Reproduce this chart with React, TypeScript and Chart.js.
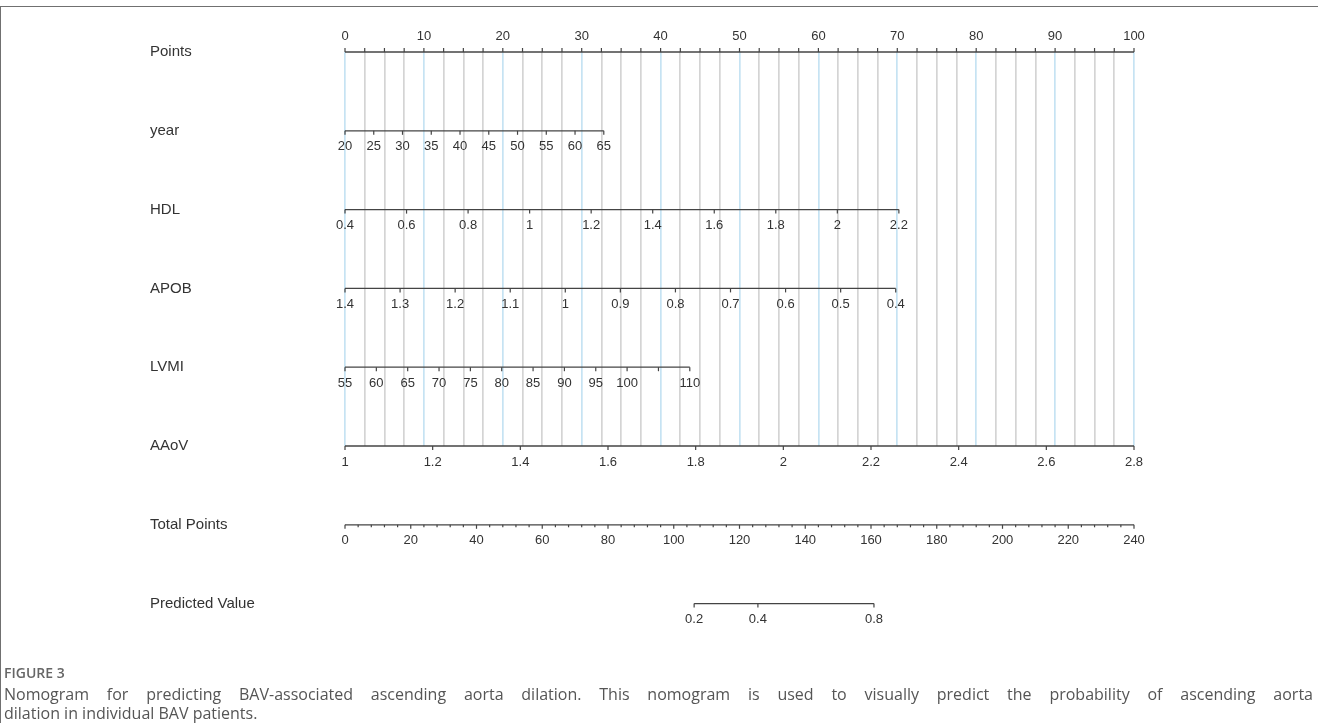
import { useEffect, useRef } from "react";
import { Chart, registerables } from "chart.js";

Chart.register(...registerables);

// ---------- data ----------
const rowNames = ["Points", "year", "HDL", "APOB", "LVMI", "AAoV", "Total Points", "Predicted Value"];

const pointsLabels = [0, 10, 20, 30, 40, 50, 60, 70, 80, 90, 100];
const pointsMinorStep = 2.5;

const yearTicks = [20, 25, 30, 35, 40, 45, 50, 55, 60, 65];
const yearPointSpan = [0, 32.8];

const hdlTicks = [0.4, 0.6, 0.8, 1, 1.2, 1.4, 1.6, 1.8, 2, 2.2];
const hdlPointSpan = [0, 70.2];

const apobTicks = [1.4, 1.3, 1.2, 1.1, 1, 0.9, 0.8, 0.7, 0.6, 0.5, 0.4];
const apobPointSpan = [0, 69.8];

const lvmiTicks = [55, 60, 65, 70, 75, 80, 85, 90, 95, 100, 105, 110];
const lvmiLabels = ["55", "60", "65", "70", "75", "80", "85", "90", "95", "100", "", "110"];
const lvmiPointSpan = [0, 43.7];

const aaovTicks = [1, 1.2, 1.4, 1.6, 1.8, 2, 2.2, 2.4, 2.6, 2.8];
const aaovPointSpan = [0, 100];

const totalTicks = [0, 20, 40, 60, 80, 100, 120, 140, 160, 180, 200, 220, 240];
const totalMinorStep = 4;
const totalPointsFull = 240; // total points equal to 100 "Points"

const predTicks = [0.2, 0.4, 0.8];
const predTotalPoints = [106.2, 125.6, 160.9];

// ---------- helpers ----------
type Tick = { p: number; len: number; text: string };
type Row = { row: number; dir: number; ticks: Tick[] };

const linMap = (vals: number[], span: number[]) => {
  const v0 = vals[0];
  const v1 = vals[vals.length - 1];
  return (v: number) => span[0] + ((v - v0) / (v1 - v0)) * (span[1] - span[0]);
};

function varRow(row: number, vals: number[], span: number[], labels?: string[]): Row {
  const f = linMap(vals, span);
  return {
    row,
    dir: 1,
    ticks: vals.map((v, i) => ({ p: f(v), len: 4, text: labels ? labels[i] : String(v) })),
  };
}

function buildRows(): Row[] {
  const rows: Row[] = [];
  const pTicks: Tick[] = [];
  const pMax = pointsLabels[pointsLabels.length - 1];
  for (let v = 0; v <= pMax + 1e-9; v += pointsMinorStep) {
    const isMajor = pointsLabels.some((l) => Math.abs(l - v) < 1e-9);
    pTicks.push({ p: v, len: 4, text: isMajor ? String(v) : "" });
  }
  rows.push({ row: 0, dir: -1, ticks: pTicks });
  rows.push(varRow(1, yearTicks, yearPointSpan));
  rows.push(varRow(2, hdlTicks, hdlPointSpan));
  rows.push(varRow(3, apobTicks, apobPointSpan));
  rows.push(varRow(4, lvmiTicks, lvmiPointSpan, lvmiLabels));
  rows.push(varRow(5, aaovTicks, aaovPointSpan));
  const tTicks: Tick[] = [];
  const tScale = 100 / totalPointsFull;
  const tMax = totalTicks[totalTicks.length - 1];
  for (let v = 0; v <= tMax + 1e-9; v += totalMinorStep) {
    const isMajor = totalTicks.some((l) => Math.abs(l - v) < 1e-9);
    tTicks.push({ p: v * tScale, len: isMajor ? 4 : 2.5, text: isMajor ? String(v) : "" });
  }
  rows.push({ row: 6, dir: 1, ticks: tTicks });
  rows.push({
    row: 7,
    dir: 1,
    ticks: predTicks.map((v, i) => ({ p: predTotalPoints[i] * tScale, len: 4, text: String(v) })),
  });
  return rows;
}

const ROWS = buildRows();

const axisColor = "#444";
const textColor = "#333";
const FONT = '"Liberation Sans", Arial, Helvetica, sans-serif';

const nomogramPlugin = {
  id: "nomogramAxes",
  afterDatasetsDraw(chart: any) {
    const { ctx, scales } = chart;
    const xs = scales.x;
    const ys = scales.y;
    ctx.save();
    ctx.fillStyle = textColor;
    ctx.font = `15px ${FONT}`;
    ctx.textAlign = "left";
    ctx.textBaseline = "middle";
    rowNames.forEach((n, i) => ctx.fillText(n, chart.chartArea.left - 195, ys.getPixelForValue(i)));
    ctx.strokeStyle = axisColor;
    ctx.lineWidth = 1.2;
    ctx.font = `13px ${FONT}`;
    ctx.textAlign = "center";
    ROWS.forEach((r) => {
      const py = ys.getPixelForValue(r.row);
      r.ticks.forEach((t) => {
        const px = xs.getPixelForValue(t.p);
        ctx.beginPath();
        ctx.moveTo(px, py);
        ctx.lineTo(px, py + r.dir * t.len);
        ctx.stroke();
        if (t.text) ctx.fillText(t.text, px, py + r.dir * 16);
      });
    });
    ctx.restore();
  },
};

function axisDatasets() {
  return ROWS.map((r) => {
    const ps = r.ticks.map((t) => t.p);
    return {
      type: "scatter" as const,
      data: [
        { x: Math.min(...ps), y: r.row },
        { x: Math.max(...ps), y: r.row },
      ],
      showLine: true,
      borderColor: axisColor,
      borderWidth: 1.3,
      pointRadius: 0,
      clip: false as any,
    };
  });
}

export default function App() {
  const ref = useRef<HTMLCanvasElement>(null);
  useEffect(() => {
    if (!ref.current) return;
    const chart = new Chart(ref.current, {
      type: "scatter",
      data: { datasets: axisDatasets() as any },
      options: {
        animation: false,
        responsive: false,
        events: [],
        layout: { autoPadding: false, padding: { left: 345, right: 184, top: 52, bottom: 277 } },
        plugins: { legend: { display: false }, tooltip: { enabled: false } },
        scales: {
          x: {
            type: "linear",
            min: 0,
            max: 100,
            ticks: { display: false, stepSize: pointsMinorStep, maxTicksLimit: 200 },
            grid: {
              drawTicks: false,
              lineWidth: 1.7,
              color: (c: any) =>
                c.tick && Math.abs(c.tick.value % 10) < 1e-6 ? "#c6e3f3" : "#d4d4d4",
            },
            border: { display: false },
          },
          y: { type: "linear", min: 0, max: 5, reverse: true, display: false },
        },
      },
      plugins: [nomogramPlugin],
    });
    return () => chart.destroy();
  }, []);

  const capFont = '"Open Sans", "Noto Sans", sans-serif';
  return (
    <div style={{ position: "absolute", left: 0, top: 0, width: 1318, height: 723, background: "#fff", overflow: "hidden" }}>
      <div
        style={{
          position: "absolute",
          left: 0,
          top: 6,
          width: 1320,
          height: 720,
          borderTop: "1.5px solid #707070",
          borderLeft: "1.5px solid #707070",
        }}
      />
      <canvas ref={ref} width={1318} height={723} style={{ position: "absolute", left: 0, top: 0, display: "block" }} />
      <div style={{ position: "absolute", left: 4, top: 663, width: 1309, fontFamily: capFont, color: "#555" }}>
        <div style={{ fontSize: 14, lineHeight: "20px", fontWeight: 600, color: "#666" }}>FIGURE 3</div>
        <div style={{ fontSize: 16, lineHeight: "19px", marginTop: 2, textAlign: "justify", textAlignLast: "justify" as any }}>
          Nomogram for predicting BAV-associated ascending aorta dilation. This nomogram is used to visually predict the probability of ascending aorta
        </div>
        <div style={{ fontSize: 16, lineHeight: "19px" }}>dilation in individual BAV patients.</div>
      </div>
    </div>
  );
}
